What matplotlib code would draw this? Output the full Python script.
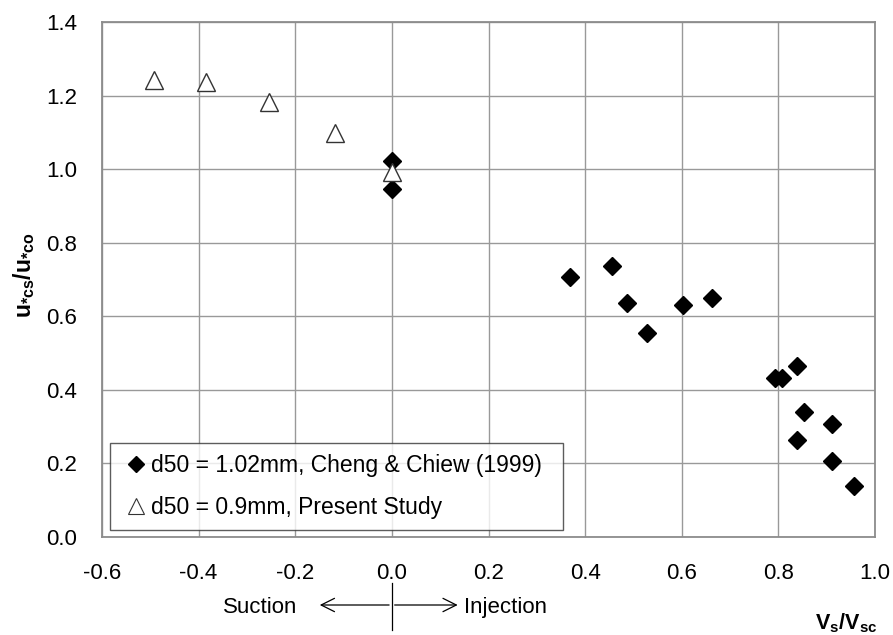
import matplotlib
matplotlib.use("Agg")
import matplotlib.pyplot as plt
from matplotlib.lines import Line2D

plt.rcParams['font.family'] = ['Liberation Sans', 'DejaVu Sans']
plt.rcParams['mathtext.fontset'] = 'custom'
plt.rcParams['mathtext.rm'] = 'Liberation Sans'
plt.rcParams['mathtext.it'] = 'Liberation Sans:italic'
plt.rcParams['mathtext.bf'] = 'Liberation Sans:bold'

# Cheng & Chiew (1999), d50 = 1.02 mm
cheng_x = [0.0, 0.0, 0.368, 0.456, 0.486, 0.529, 0.603, 0.662,
           0.793, 0.808, 0.838, 0.854, 0.912, 0.838, 0.912, 0.956]
cheng_y = [1.022, 0.945, 0.707, 0.736, 0.637, 0.555, 0.632, 0.650,
           0.431, 0.431, 0.465, 0.341, 0.308, 0.264, 0.207, 0.140]

# Present study, d50 = 0.9 mm
present_x = [-0.493, -0.385, -0.255, -0.117, 0.0]
present_y = [1.242, 1.238, 1.183, 1.099, 0.993]

xticks = [-0.6, -0.4, -0.2, 0.0, 0.2, 0.4, 0.6, 0.8, 1.0]
yticks = [0.0, 0.2, 0.4, 0.6, 0.8, 1.0, 1.2, 1.4]

labels = ['d50 = 1.02mm, Cheng & Chiew (1999)', 'd50 = 0.9mm, Present Study']

FS = 16

fig = plt.figure(figsize=(8.93, 6.35), dpi=100)
ax = fig.add_axes([102/893, 1 - 537/635, (875-102)/893, (537-22)/635])

ax.plot(cheng_x, cheng_y, linestyle='none', marker='D', ms=9.2,
        mfc='black', mec='black', zorder=3)
ax.plot(present_x, present_y, linestyle='none', marker='^', ms=13,
        mfc='white', mec='#333333', mew=1.0, zorder=4)

ax.set_xlim(-0.6, 1.0)
ax.set_ylim(0.0, 1.4)
ax.set_xticks(xticks)
ax.set_yticks(yticks)
ax.set_xticklabels([f'{v:.1f}' for v in xticks])
ax.set_yticklabels([f'{v:.1f}' for v in yticks])
ax.tick_params(axis='both', labelsize=FS, length=0)
ax.tick_params(axis='y', pad=18)
ax.tick_params(axis='x', pad=19)
ax.grid(True, color='#999999', linewidth=1)
ax.set_axisbelow(True)
for s in ax.spines.values():
    s.set_color('#8c8c8c')
    s.set_linewidth(1.3)

fig.text(24/893, 1 - 275/635, r'$\mathbf{u_{*cs}/u_{*co}}$', fontsize=16.5,
         rotation=90, ha='center', va='center')
fig.text(846/893, 1 - 623/635, r'$\mathbf{V_s/V_{sc}}$', fontsize=15.5,
         ha='center', va='center')

handles = [Line2D([], [], linestyle='none', marker='D', ms=8, mfc='black', mec='black'),
           Line2D([], [], linestyle='none', marker='^', ms=12, mfc='white', mec='#333333', mew=0.8)]
leg = ax.legend(handles, labels, loc='lower left',
                bbox_to_anchor=(8/773, 7/515, 453/773, 95/515), mode='expand',
                fontsize=16.5, frameon=True, fancybox=False, edgecolor='#333333',
                handletextpad=0.0, handlelength=1.3, borderpad=0.5, labelspacing=0.8,
                borderaxespad=0)
leg.get_frame().set_linewidth(1.0)

# Suction / Injection annotation
xt = ax.get_xaxis_transform()
yarr = -(605 - 537) / 515
ax.annotate('', xy=(-0.155, yarr), xytext=(0.0, yarr), xycoords=xt, textcoords=xt,
            arrowprops=dict(arrowstyle='->', lw=0.9, color='black', mutation_scale=24),
            annotation_clip=False)
ax.annotate('', xy=(0.142, yarr), xytext=(0.0, yarr), xycoords=xt, textcoords=xt,
            arrowprops=dict(arrowstyle='->', lw=0.9, color='black', mutation_scale=24),
            annotation_clip=False)
ax.plot([0.0, 0.0], [-(583 - 537) / 515, -(630 - 537) / 515], transform=xt,
        color='black', lw=0.9, clip_on=False)
ax.text(-0.196, yarr - 0.004, 'Suction', transform=xt, ha='right', va='center', fontsize=FS)
ax.text(0.150, yarr - 0.004, 'Injection', transform=xt, ha='left', va='center', fontsize=FS)

fig.savefig('out.png', dpi=100)
